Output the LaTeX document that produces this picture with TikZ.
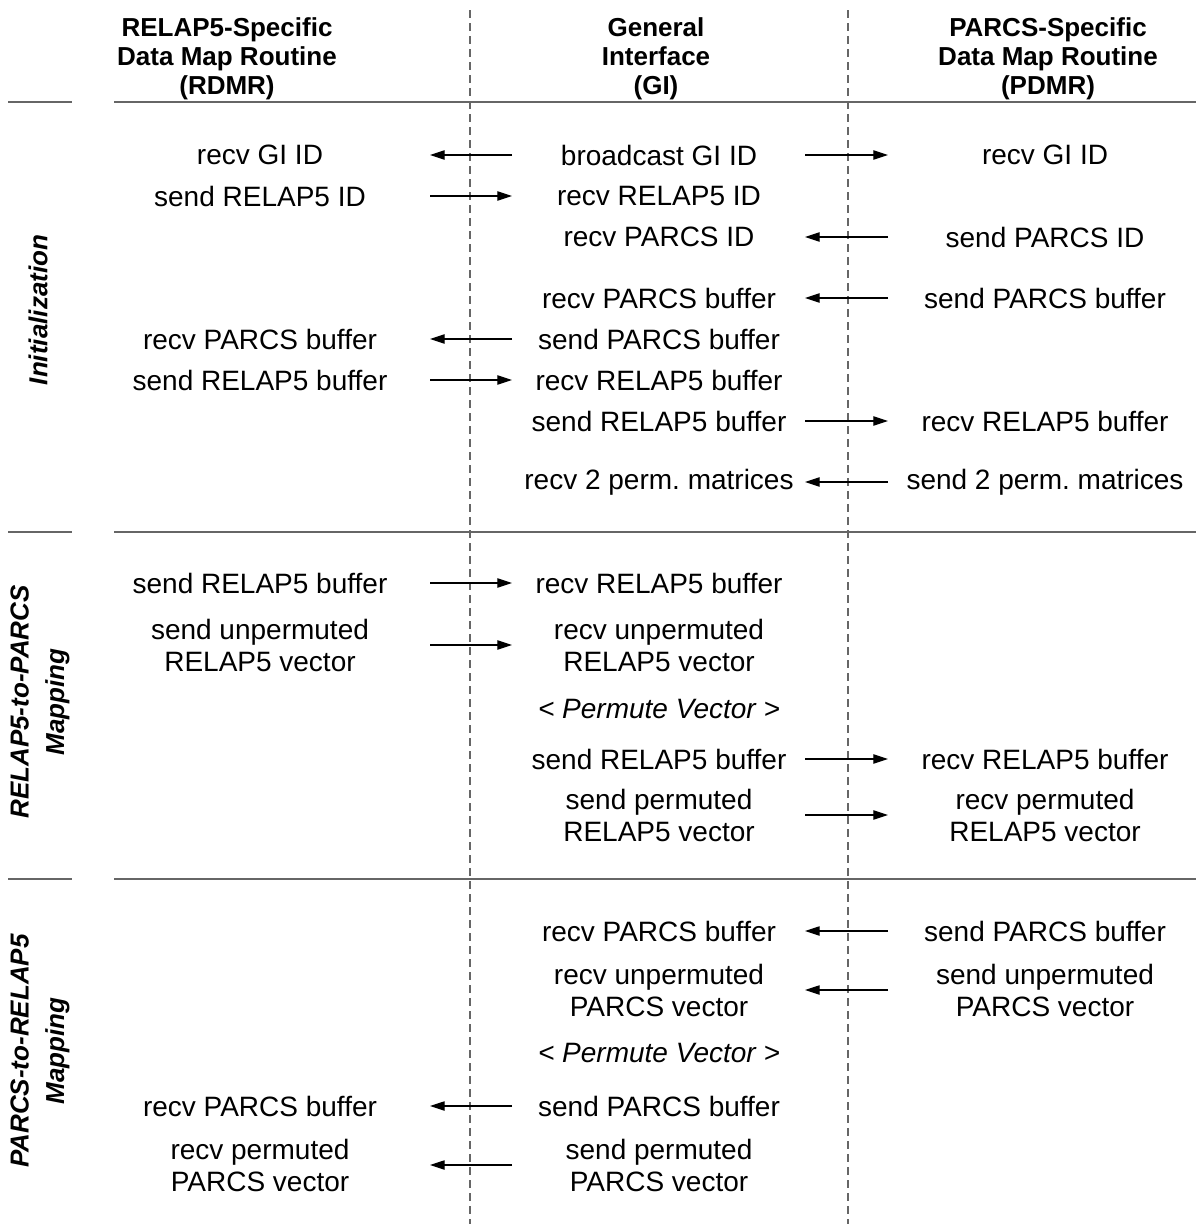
\documentclass[tikz,border=0pt]{standalone}
\usepackage{fontspec}
\setmainfont{Liberation Sans}
\usetikzlibrary{arrows.meta}

\begin{document}
\begin{tikzpicture}[
    x=0.75pt, y=-0.75pt,
    hdr/.style={font=\bfseries\fontsize{19.5}{21.75}\selectfont, align=center},
    txt/.style={font=\fontsize{21}{24}\selectfont, align=center},
    perm/.style={font=\itshape\fontsize{21}{24}\selectfont},
    phase/.style={rotate=90, align=center,
                  font=\bfseries\itshape\fontsize{19.5}{26.5}\selectfont},
    sep/.style={draw=black!60, line width=1.1pt},
    lane/.style={draw=black!60, line width=0.9pt, dash pattern=on 6pt off 3.75pt},
    msg/.style={-{Triangle[length=11pt, width=7pt]}, line width=0.8pt},
]

\useasboundingbox (0,0) rectangle (1196,1224);

\node[hdr] (hR) at (227,59) {RELAP5-Specific\\Data Map Routine\\(RDMR)};
\node[hdr] (hG) at (656,59) {General\\Interface\\(GI)};
\node[hdr] (hP) at (1048,59) {PARCS-Specific\\Data Map Routine\\(PDMR)};

\draw[lane] (470,10) -- (470,1224);
\draw[lane] (848,10) -- (848,1224);
\foreach \y in {102,532,879} {
    \draw[sep] (8,\y) -- (72,\y);
    \draw[sep] (114,\y) -- (1196,\y);
}

\node[phase] (ph1) at (38,310) {Initialization};
\node[phase] (ph2) at (40,702) {RELAP5-to-PARCS\\Mapping};
\node[phase] (ph3) at (40,1051) {PARCS-to-RELAP5\\Mapping};

\coordinate (la) at (430,0);
\coordinate (lb) at (512,0);
\coordinate (ra) at (805,0);
\coordinate (rb) at (888,0);

% initialization
\node[txt] (r1) at (260,155) {recv GI ID};
\node[txt] (g1) at (659,155) {broadcast GI ID};
\node[txt] (p1) at (1045,155) {recv GI ID};
\node[txt] (r2) at (260,196) {send RELAP5 ID};
\node[txt] (g2) at (659,196) {recv RELAP5 ID};
\node[txt] (g3) at (659,237) {recv PARCS ID};
\node[txt] (p3) at (1045,237) {send PARCS ID};
\node[txt] (g4) at (659,298) {recv PARCS buffer};
\node[txt] (p4) at (1045,298) {send PARCS buffer};
\node[txt] (r5) at (260,339) {recv PARCS buffer};
\node[txt] (g5) at (659,339) {send PARCS buffer};
\node[txt] (r6) at (260,380) {send RELAP5 buffer};
\node[txt] (g6) at (659,380) {recv RELAP5 buffer};
\node[txt] (g7) at (659,421) {send RELAP5 buffer};
\node[txt] (p7) at (1045,421) {recv RELAP5 buffer};
\node[txt] (g8) at (659,482) {recv 2 perm.\ matrices};
\node[txt] (p8) at (1045,482) {send 2 perm.\ matrices};

\draw[msg] (lb |- g1) -- (la |- r1);
\draw[msg] (ra |- g1) -- (rb |- p1);
\draw[msg] (la |- r2) -- (lb |- g2);
\draw[msg] (rb |- p3) -- (ra |- g3);
\draw[msg] (rb |- p4) -- (ra |- g4);
\draw[msg] (lb |- g5) -- (la |- r5);
\draw[msg] (la |- r6) -- (lb |- g6);
\draw[msg] (ra |- g7) -- (rb |- p7);
\draw[msg] (rb |- p8) -- (ra |- g8);

% relap5 to parcs
\node[txt] (r9) at (260,583) {send RELAP5 buffer};
\node[txt] (g9) at (659,583) {recv RELAP5 buffer};
\node[txt] (r10) at (260,645) {send unpermuted\\RELAP5 vector};
\node[txt] (g10) at (659,645) {recv unpermuted\\RELAP5 vector};
\node[perm] (g11) at (659,709) {< Permute Vector >};
\node[txt] (g12) at (659,759) {send RELAP5 buffer};
\node[txt] (p12) at (1045,759) {recv RELAP5 buffer};
\node[txt] (g13) at (659,815) {send permuted\\RELAP5 vector};
\node[txt] (p13) at (1045,815) {recv permuted\\RELAP5 vector};

\draw[msg] (la |- r9) -- (lb |- g9);
\draw[msg] (la |- r10) -- (lb |- g10);
\draw[msg] (ra |- g12) -- (rb |- p12);
\draw[msg] (ra |- g13) -- (rb |- p13);

% parcs to relap5
\node[txt] (g14) at (659,931) {recv PARCS buffer};
\node[txt] (p14) at (1045,931) {send PARCS buffer};
\node[txt] (g15) at (659,990) {recv unpermuted\\PARCS vector};
\node[txt] (p15) at (1045,990) {send unpermuted\\PARCS vector};
\node[perm] (g16) at (659,1053) {< Permute Vector >};
\node[txt] (r17) at (260,1106) {recv PARCS buffer};
\node[txt] (g17) at (659,1106) {send PARCS buffer};
\node[txt] (r18) at (260,1165) {recv permuted\\PARCS vector};
\node[txt] (g18) at (659,1165) {send permuted\\PARCS vector};

\draw[msg] (rb |- p14) -- (ra |- g14);
\draw[msg] (rb |- p15) -- (ra |- g15);
\draw[msg] (lb |- g17) -- (la |- r17);
\draw[msg] (lb |- g18) -- (la |- r18);

\end{tikzpicture}
\end{document}
